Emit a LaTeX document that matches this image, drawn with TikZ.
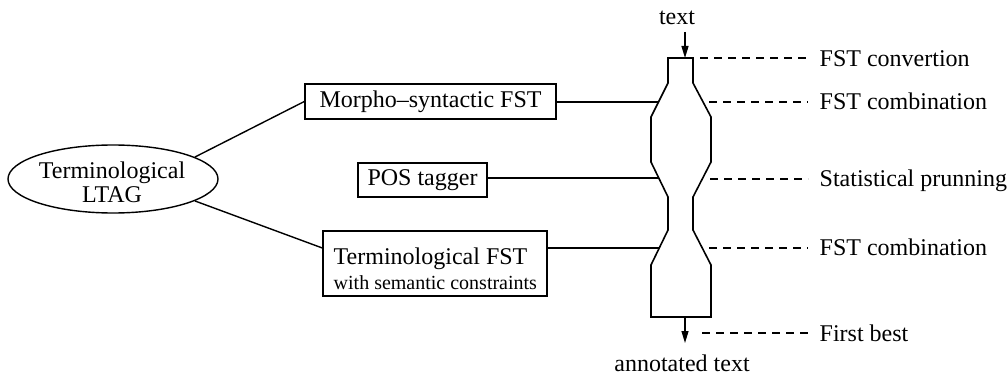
\documentclass[tikz,border=0pt]{standalone}
\usepackage{fontspec}
\setmainfont{Liberation Serif}
\usetikzlibrary{shapes.geometric,arrows.meta}
\begin{document}
\begin{tikzpicture}[x=1pt,y=-1pt,line width=1.4pt,
  font=\fontsize{24}{24}\selectfont,
  box/.style={draw,rectangle,inner sep=0pt},
  lbl/.style={inner sep=0pt},
  conn/.style={line width=1.4pt},
  dashline/.style={line width=1.3pt,dash pattern=on 8pt off 6pt},
  arr/.style={line width=1.2pt,-{Triangle[length=12pt,width=7pt]}},
  body/.style={line width=1.6pt,line join=miter}]
\useasboundingbox (0,0) rectangle (1007,382);

% left ellipse
\node[draw,ellipse,minimum width=210pt,minimum height=68pt,inner sep=0pt] (ltag) at (113,179) {};
\node[lbl,anchor=base] (ltag1) at (112,179) {Terminological};
\node[lbl,anchor=base] (ltag2) at (112,203) {LTAG};

% boxes
\node[box,minimum width=251pt,minimum height=35pt] (morpho) at (430.5,101.5) {Morpho\char"2013 syntactic FST};
\node[box,minimum width=129pt,minimum height=34pt] (pos) at (422.5,180) {POS tagger};
\node[box,minimum width=224pt,minimum height=65pt] (term) at (435,263.5) {};
\node[lbl,anchor=base west] (term1) at (333,265) {Terminological FST};
\node[lbl,anchor=base west,font=\fontsize{20}{20}\selectfont] (term2) at (333,290) {with semantic constraints};

% processing body
\draw[body] (668,58) -- (693,58) -- (693,83) -- (711,117) -- (711,162) -- (693,197)
  -- (693,230) -- (711,265) -- (711,317) -- (651,317) -- (651,265) -- (668,230)
  -- (668,197) -- (651,162) -- (651,117) -- (668,83) -- cycle;

% coordinates on the body
\coordinate (min) at (658.5,102);
\coordinate (pin) at (659,178);
\coordinate (tin) at (658.5,248);
\coordinate (r1) at (700,58);
\coordinate (r2) at (709,102);
\coordinate (r3) at (710,179);
\coordinate (r4) at (709,248);
\coordinate (r5) at (702,333);
\coordinate (topin) at (685,32);
\coordinate (top) at (685,58);
\coordinate (bot) at (685,317);
\coordinate (botout) at (685,343);

% connectors
\draw[conn] (ltag.15) -- (morpho.west);
\draw[conn] (ltag.-15) -- (term.west |- tin);
\draw[conn] (morpho.east |- min) -- (min);
\draw[conn] (pos.east |- pin) -- (pin);
\draw[conn] (term.east |- tin) -- (tin);

% input / output
\node[lbl,anchor=base] (intext) at (677,25) {text};
\node[lbl,anchor=base] (outtext) at (682,371) {annotated text};
\draw[arr] (topin) -- (top);
\draw[arr] (bot) -- (botout);

% right labels
\node[lbl,anchor=base west] (l1) at (819,67) {FST convertion};
\node[lbl,anchor=base west] (l2) at (819,110) {FST combination};
\node[lbl,anchor=base west] (l3) at (819,187) {Statistical prunning};
\node[lbl,anchor=base west] (l4) at (819,256) {FST combination};
\node[lbl,anchor=base west] (l5) at (819,341) {First best};

\draw[dashline] (r1) -- ([xshift=-11pt]l1.west |- r1);
\draw[dashline] (r2) -- ([xshift=-11pt]l2.west |- r2);
\draw[dashline] (r3) -- ([xshift=-11pt]l3.west |- r3);
\draw[dashline] (r4) -- ([xshift=-11pt]l4.west |- r4);
\draw[dashline] (r5) -- ([xshift=-11pt]l5.west |- r5);
\end{tikzpicture}
\end{document}
